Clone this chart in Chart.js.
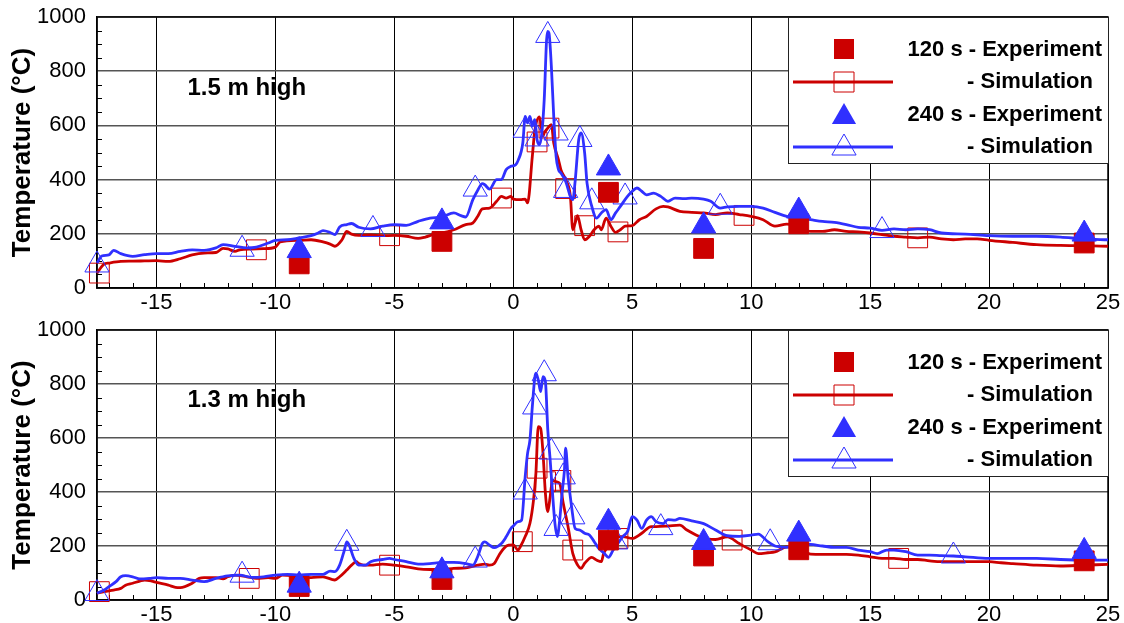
<!DOCTYPE html>
<html>
<head>
<meta charset="utf-8">
<script src="https://cdn.jsdelivr.net/npm/chart.js@4.4.1/dist/chart.umd.min.js"></script>
<style>
  html, body { margin: 0; padding: 0; background: #fff; }
  canvas { display: block; }
</style>
</head>
<body>
<canvas id="top" width="1124" height="311"></canvas>
<canvas id="bottom" width="1124" height="312"></canvas>
<script>
const RED = '#cc0000';
const BLUE = '#3030ff';
const FONT = "'Liberation Sans', Arial, sans-serif";

const xTicks = [-15, -10, -5, 0, 5, 10, 15, 20, 25];
const yTicks = [0, 200, 400, 600, 800, 1000];
const expX = [-9, -3, 4, 8, 12, 24];

// ---- 1.5 m high ----
const hiExp120 = [89, 172, 353, 146, 237, 166];
const hiExp240 = [138, 244, 443, 229, 284, 199];

const hiSim120X = [-17.5,-17.2,-17,-16.5,-16,-15.5,-15,-14.5,-14,-13.5,-13,-12.5,-12.2,-12,-11.7,-11.5,-11,-10.5,-10,-9.8,-9,-8.5,-8,-7.7,-7.5,-7.2,-7,-6.8,-6.5,-6,-5.5,-5,-4.5,-4,-3.7,-3.3,-3,-2.5,-2,-1.7,-1.5,-1.3,-1,-0.7,-0.5,-0.3,-0.1,0,0.3,0.5,0.6,0.8,0.9,1.1,1.25,1.3,1.45,1.6,1.7,1.9,2,2.2,2.4,2.5,2.6,2.7,2.85,3,3.2,3.4,3.6,3.7,3.9,4.1,4.3,4.5,4.7,5,5.3,5.6,6,6.3,6.5,7,7.5,8,8.5,9,9.5,10,10.5,11,11.5,12,12.5,13,13.5,14,14.5,15,15.5,16,16.5,17,17.5,18,18.5,19,19.5,20,21,22,23,24,25];
const hiSim120Y = [55,88,92,98,99,100,101,98,108,122,129,131,146,144,135,141,144,145,151,170,176,178,170,162,154,178,209,199,194,196,193,194,191,183,188,199,203,215,234,240,264,292,295,320,338,332,338,328,326,328,314,486,578,631,560,572,590,603,535,473,437,400,338,215,240,267,215,178,191,215,228,215,258,228,205,215,228,230,252,264,292,301,299,283,279,277,271,277,271,264,252,228,236,228,209,209,215,209,207,203,197,191,188,185,188,181,178,181,181,176,168,160,157,156,154];
const hiMark120X = [-17.4, -10.8, -5.2, -0.5, 1.0, 1.5, 2.2, 3.0, 4.4, 9.7, 17.0];
const hiMark120Y = [55, 141, 193, 332, 539, 590, 367, 230, 207, 268, 185];

const hiSim240X = [-17.5,-17.3,-17,-16.8,-16.5,-16,-15.5,-15,-14.5,-14,-13.5,-13,-12.5,-12.2,-11.7,-11.2,-10.8,-10.3,-10,-9.5,-9,-8.5,-8.2,-8,-7.7,-7.5,-7.3,-7,-6.8,-6.5,-6,-5.5,-5,-4.5,-4,-3.5,-3,-2.5,-2.2,-2,-1.7,-1.5,-1.3,-1.2,-1,-0.7,-0.5,-0.3,-0.1,0.1,0.2,0.4,0.5,0.6,0.7,0.8,0.9,1,1.1,1.2,1.3,1.4,1.45,1.5,1.6,1.7,1.8,1.9,2,2.2,2.4,2.5,2.6,2.75,2.85,3,3.1,3.3,3.5,3.7,3.9,4.1,4.3,4.5,4.8,5,5.2,5.4,5.6,5.9,6.2,6.5,6.8,7.2,7.5,8,8.3,8.7,9,9.5,10,10.5,11,11.5,12,12.5,13,13.5,14,14.5,15,15.5,16,16.5,17,17.5,18,19,20,21,22,23,24,25];
const hiSim240Y = [92,118,122,139,127,117,123,127,127,135,141,139,148,160,154,148,151,166,176,178,185,193,203,212,205,197,225,234,238,224,218,228,234,231,246,258,262,277,267,262,326,360,385,381,365,400,400,437,449,455,470,535,633,609,633,597,621,547,529,572,695,916,947,941,818,633,486,437,424,394,338,326,394,547,572,498,387,301,258,277,289,252,277,301,338,357,369,357,344,350,338,320,332,330,332,328,320,295,299,301,301,295,279,264,258,252,246,242,234,224,221,213,218,215,218,215,203,199,193,191,191,188,181,178];
const hiMark240X = [-17.5, -11.4, -5.9, -1.6, 0.5, 1.0, 1.45, 1.8, 2.2, 2.8, 3.3, 4.7, 8.7, 15.5];
const hiMark240Y = [85, 143, 216, 365, 582, 550, 932, 572, 360, 548, 318, 336, 298, 212];

// ---- 1.3 m high ----
const loExp120 = [50, 76, 222, 163, 186, 145];
const loExp240 = [55, 108, 288, 213, 244, 180];

const loSim120X = [-17.5,-17.2,-16.8,-16.5,-16.3,-16,-15.7,-15.5,-15.2,-15,-14.5,-14.2,-14,-13.5,-13.2,-13,-12.5,-12.2,-12,-11.7,-11.2,-10.8,-10.3,-10,-9.7,-9.3,-9,-8.5,-8,-7.5,-7.3,-7,-6.8,-6.6,-6.5,-6.3,-6,-5.5,-5,-4.5,-4,-3.5,-3,-2.5,-2,-1.5,-1.2,-1,-0.8,-0.6,-0.4,-0.2,0,0.2,0.3,0.5,0.7,0.85,0.95,1.05,1.15,1.25,1.35,1.45,1.55,1.65,1.8,1.95,2.1,2.3,2.5,2.7,2.85,3,3.3,3.5,3.7,3.8,4,4.3,4.6,5,5.4,5.8,6,6.5,7,7.3,7.7,8,8.5,9,9.5,10,10.3,10.7,11,11.5,12,12.5,13,14,14.5,15,15.5,16,16.5,17,17.5,18,19,20,20.5,21,22,23,24,25];
const loSim120Y = [25,31,37,43,55,62,70,74,70,65,55,47,46,62,80,83,83,78,86,92,86,80,83,80,92,90,86,83,86,74,86,111,129,142,135,129,129,133,129,123,115,113,113,117,119,129,133,129,135,166,191,203,204,185,198,235,284,370,469,642,636,543,395,327,383,444,438,432,358,272,173,130,117,136,158,148,142,173,198,235,235,228,247,272,272,274,277,259,240,228,224,234,209,185,172,175,178,197,191,170,169,169,166,160,154,154,150,150,145,142,142,142,138,135,129,126,129,132];
const loMark120X = [-17.4, -11.1, -5.2, 0.38, 1.0, 1.36, 2.0, 2.5, 4.4, 9.2, 16.2];
const loMark120Y = [31, 80, 129, 216, 488, 438, 443, 185, 228, 222, 154];

const loSim240X = [-17.5,-17.2,-17,-16.7,-16.5,-16.3,-16,-15.7,-15.3,-15,-14.5,-14,-13.5,-13,-12.5,-12,-11.5,-11,-10.5,-10,-9.5,-9,-8.5,-8,-7.7,-7.5,-7.3,-7.1,-7,-6.9,-6.7,-6.5,-6.2,-6,-5.5,-5.2,-5,-4.5,-4,-3.5,-3,-2.5,-2,-1.7,-1.5,-1.3,-1.2,-1,-0.8,-0.5,-0.3,-0.1,0,0.2,0.35,0.5,0.6,0.7,0.8,0.9,0.95,1.05,1.15,1.25,1.35,1.45,1.55,1.65,1.75,1.85,1.95,2.05,2.15,2.2,2.3,2.45,2.6,2.8,3,3.2,3.4,3.6,3.8,4,4.2,4.4,4.6,4.8,5,5.2,5.4,5.6,5.8,6,6.3,6.5,6.8,7,7.5,8,8.5,9,9.5,10,10.3,10.7,11,11.5,12,12.5,13,13.5,14,14.5,15,15.3,15.7,16,16.5,17,17.5,18,18.5,19,20,21,22,23,24,25];
const loSim240Y = [25,37,49,68,86,90,86,78,80,83,80,80,74,68,80,89,92,84,86,92,95,92,95,95,107,105,129,185,215,203,154,129,129,142,150,154,150,142,133,135,139,139,135,129,160,209,215,203,194,209,234,265,274,290,296,457,543,593,716,821,840,815,772,827,809,630,519,395,284,235,296,395,481,562,457,346,265,259,247,241,216,190,175,158,185,210,235,253,309,296,265,296,309,290,283,298,296,302,293,283,259,238,236,240,244,216,200,195,209,206,200,195,195,185,179,172,185,185,179,166,166,164,163,160,154,154,154,150,148,148];
const loMark240X = [-17.5, -11.4, -7.0, -1.6, 0.5, 0.9, 1.3, 1.6, 1.8, 2.1, 2.5, 4.3, 6.2, 10.8, 18.5];
const loMark240Y = [24, 92, 210, 148, 400, 715, 838, 548, 265, 456, 308, 215, 268, 212, 163];

const pts = (xs, ys) => xs.map((x, i) => ({x, y: ys[i]}));

// minor ticks + closed frame round the plot
const frame = {
  id: 'frame',
  beforeDatasetsDraw(chart) {
    const {ctx, chartArea: a, scales: {x, y}} = chart;
    ctx.save();
    ctx.strokeStyle = '#000';
    ctx.lineWidth = 1;
    ctx.beginPath();
    for (let v = -17; v < 25; v++) {
      if (v % 5 === 0) continue;
      const px = Math.round(x.getPixelForValue(v)) + 0.5;
      ctx.moveTo(px, a.bottom); ctx.lineTo(px, a.bottom - 5);
    }
    for (let v = 50; v < 1000; v += 50) {
      if (v % 200 === 0) continue;
      const py = Math.round(y.getPixelForValue(v)) + 0.5;
      ctx.moveTo(a.left, py); ctx.lineTo(a.left + 5, py);
    }
    ctx.stroke();
    ctx.lineWidth = 1.5;
    ctx.strokeRect(a.left, a.top, a.right - a.left, a.bottom - a.top);
    ctx.restore();
  }
};

function marker(ctx, shape, x, y, color, filled) {
  ctx.beginPath();
  if (shape === 'rect') ctx.rect(x - 10, y - 10, 20, 20);
  else { ctx.moveTo(x, y - 14); ctx.lineTo(x + 12.1, y + 7); ctx.lineTo(x - 12.1, y + 7); ctx.closePath(); }
  if (filled) { ctx.fillStyle = color; ctx.fill(); }
  else { ctx.strokeStyle = color; ctx.lineWidth = 1; ctx.stroke(); }
}

// legend box and the panel label
const notes = {
  id: 'notes',
  afterDatasetsDraw(chart, args, opts) {
    const {ctx, chartArea: a, scales: {x, y}} = chart;
    ctx.save();
    ctx.font = `bold 24px ${FONT}`;
    ctx.fillStyle = '#000';
    ctx.textBaseline = 'middle';
    ctx.fillText(opts.label, x.getPixelForValue(-13.7), y.getPixelForValue(738));

    const L = a.right - 320, T = a.top;
    ctx.fillStyle = '#fff';
    ctx.fillRect(L, T, 320, 146);
    ctx.strokeStyle = '#222';
    ctx.lineWidth = 1;
    ctx.strokeRect(L + 0.5, T + 0.5, 320, 146);

    const mx = a.right - 264;
    ctx.lineWidth = 2.8;
    ctx.strokeStyle = RED;
    ctx.beginPath(); ctx.moveTo(a.right - 315, T + 65); ctx.lineTo(a.right - 215, T + 65); ctx.stroke();
    ctx.strokeStyle = BLUE;
    ctx.beginPath(); ctx.moveTo(a.right - 315, T + 130); ctx.lineTo(a.right - 215, T + 130); ctx.stroke();
    marker(ctx, 'rect', mx, T + 32, RED, true);
    marker(ctx, 'rect', mx, T + 65, RED, false);
    marker(ctx, 'tri', mx, T + 100, BLUE, true);
    marker(ctx, 'tri', mx, T + 131, BLUE, false);

    ctx.fillStyle = '#000';
    ctx.font = `bold 22px ${FONT}`;
    ctx.textAlign = 'right';
    ctx.fillText('120 s - Experiment', a.right - 6, T + 33);
    ctx.fillText('- Simulation', a.right - 15, T + 65);
    ctx.fillText('240 s - Experiment', a.right - 6, T + 98);
    ctx.fillText('- Simulation', a.right - 15, T + 130);
    ctx.restore();
  }
};

function makePanel(id, topPad, label, d) {
  const line = (data, color) => ({ data, showLine: true, borderColor: color, borderWidth: 2.8,
    pointRadius: 0, cubicInterpolationMode: 'monotone', clip: false });
  const dots = (data, color, style, filled) => ({ data, showLine: false, pointStyle: style,
    pointRadius: 14, borderColor: color, borderWidth: 1,
    backgroundColor: filled ? color : 'rgba(0,0,0,0)', clip: false });

  return new Chart(document.getElementById(id), {
    type: 'scatter',
    data: {
      datasets: [
        dots(pts(expX, d.exp240), BLUE, 'triangle', true),
        dots(pts(expX, d.exp120), RED, 'rect', true),
        line(pts(d.s240x, d.s240y), BLUE),
        dots(pts(d.m240x, d.m240y), BLUE, 'triangle', false),
        line(pts(d.s120x, d.s120y), RED),
        dots(pts(d.m120x, d.m120y), RED, 'rect', false)
      ]
    },
    options: {
      responsive: false,
      animation: false,
      events: [],
      layout: { padding: { top: topPad, right: 16, left: 0, bottom: 0 } },
      plugins: { legend: { display: false }, tooltip: { enabled: false }, notes: { label } },
      scales: {
        x: {
          type: 'linear', min: -17.5, max: 25,
          afterBuildTicks: s => { s.ticks = xTicks.map(v => ({value: v})); },
          afterFit: s => { s.height = 23; s.paddingLeft = 0; s.paddingRight = 0; },
          grid: { color: '#000', lineWidth: 1, drawTicks: false },
          border: { color: '#000', width: 1.5 },
          ticks: { color: '#000', font: { family: FONT, size: 22 }, padding: 2, maxRotation: 0,
            autoSkip: false, callback: v => String(v) }
        },
        y: {
          min: 0, max: 1000,
          afterBuildTicks: s => { s.ticks = yTicks.map(v => ({value: v})); },
          afterFit: s => { s.width = 97; s.paddingTop = 0; s.paddingBottom = 0; },
          grid: { color: '#555', lineWidth: 1.5, drawTicks: false },
          border: { color: '#000', width: 1.5 },
          ticks: { color: '#000', font: { family: FONT, size: 22 }, padding: 11, callback: v => String(v) },
          title: { display: true, text: 'Temperature (°C)', color: '#000',
            font: { family: FONT, size: 26, weight: 'bold' }, padding: { top: 7, bottom: 0 } }
        }
      }
    },
    plugins: [frame, notes]
  });
}

makePanel('top', 17, '1.5 m high', {
  exp120: hiExp120, exp240: hiExp240,
  s120x: hiSim120X, s120y: hiSim120Y, m120x: hiMark120X, m120y: hiMark120Y,
  s240x: hiSim240X, s240y: hiSim240Y, m240x: hiMark240X, m240y: hiMark240Y
});
makePanel('bottom', 19, '1.3 m high', {
  exp120: loExp120, exp240: loExp240,
  s120x: loSim120X, s120y: loSim120Y, m120x: loMark120X, m120y: loMark120Y,
  s240x: loSim240X, s240y: loSim240Y, m240x: loMark240X, m240y: loMark240Y
});
</script>
</body>
</html>
